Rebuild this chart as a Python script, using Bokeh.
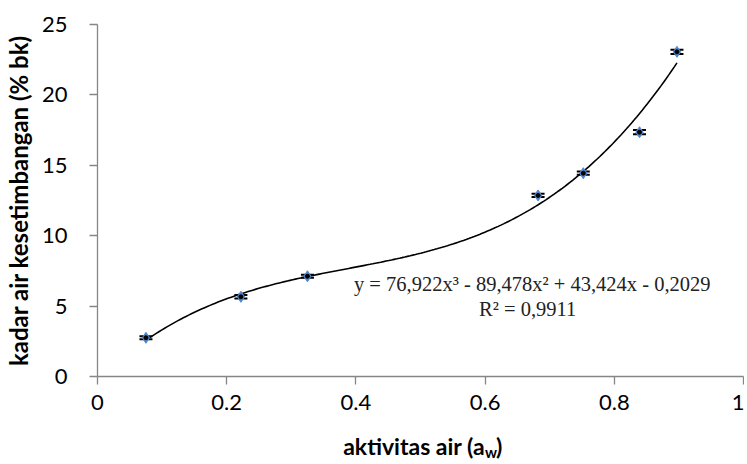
import numpy as np
from bokeh.plotting import figure
from bokeh.layouts import column
from bokeh.models import (Label, Range1d, Whisker, ColumnDataSource, FixedTicker,
                          TeeHead, NumeralTickFormatter)
from bokeh.core.properties import value
from bokeh.embed import file_html
from bokeh.resources import INLINE

# data
aw = [0.075, 0.222, 0.325, 0.682, 0.752, 0.839, 0.897]
kadar_air = [2.75, 5.66, 7.12, 12.86, 14.44, 17.35, 23.06]
galat = [0.1, 0.12, 0.1, 0.12, 0.12, 0.15, 0.15]
poly_coef = [76.922, -89.478, 43.424, -0.2029]
x_ticks = [0, 0.2, 0.4, 0.6, 0.8, 1]
y_ticks = [0, 5, 10, 15, 20, 25]
eq_line1 = "y = 76,922x³ - 89,478x² + 43,424x - 0,2029"
eq_line2 = "R² = 0,9911"
x_label_main = "aktivitas air (a"
x_label_sub = "w"
x_label_end = ")"
y_label = "kadar air kesetimbangan (% bk)"

TICK_FONT = "Lato"
LBL_FONT = "Lato"
AXIS_COLOR = "#868686"
LEFT = 94
FRAME_W = 646

p = figure(frame_width=FRAME_W, frame_height=352,
           min_border_left=LEFT, min_border_right=1, min_border_top=24, min_border_bottom=40,
           x_range=Range1d(0, 1), y_range=Range1d(0, 25),
           output_backend="svg", toolbar_location=None)
p.outline_line_color = None
p.xgrid.visible = False
p.ygrid.visible = False

for ax in (p.xaxis[0], p.yaxis[0]):
    ax.axis_line_color = AXIS_COLOR
    ax.axis_line_width = 1.3
    ax.major_tick_line_color = AXIS_COLOR
    ax.major_tick_line_width = 1.3
    ax.major_tick_in = 0
    ax.major_tick_out = 8
    ax.minor_tick_line_color = None
    ax.major_label_text_font = TICK_FONT
    ax.major_label_text_font_size = "22px"
    ax.major_label_text_color = "black"

p.xaxis[0].ticker = FixedTicker(ticks=x_ticks)
p.yaxis[0].ticker = FixedTicker(ticks=y_ticks)
p.xaxis[0].formatter = NumeralTickFormatter(format="0.[0]")
p.xaxis[0].major_label_standoff = 10
p.yaxis[0].major_label_standoff = 22

p.yaxis[0].axis_label = y_label
p.yaxis[0].axis_label_text_font = LBL_FONT
p.yaxis[0].axis_label_text_font_style = "bold"
p.yaxis[0].axis_label_text_font_size = "24px"
p.yaxis[0].axis_label_text_color = "black"
p.yaxis[0].axis_label_standoff = 6

# trendline (polynomial order 3)
xs = np.linspace(min(aw), max(aw), 200)
ys = np.polyval(poly_coef, xs)
p.line(xs, ys, line_color="black", line_width=1.6)

src = ColumnDataSource(dict(
    x=aw, y=kadar_air,
    upper=[v + e for v, e in zip(kadar_air, galat)],
    lower=[v - e for v, e in zip(kadar_air, galat)],
))
wh = Whisker(base="x", upper="upper", lower="lower", source=src, dimension="height",
             line_color="black", line_width=1.2,
             upper_head=TeeHead(size=13, line_color="black", line_width=2),
             lower_head=TeeHead(size=13, line_color="black", line_width=2))
p.add_layout(wh)
p.scatter("x", "y", source=src, marker="diamond", size=11,
          fill_color="#4F86D0", line_color="#4F86D0")
p.scatter("x", "y", source=src, marker="circle", size=4,
          fill_color="black", line_color="black")

# equation labels
p.add_layout(Label(x=0.673, y=6.55, text=eq_line1, text_align="center", text_baseline="middle",
                   text_font="Liberation Serif", text_font_size="20.5px", text_color="#222222"))
p.add_layout(Label(x=0.666, y=4.78, text=eq_line2, text_align="center", text_baseline="middle",
                   text_font="Liberation Serif", text_font_size="20.5px", text_color="#222222"))

# x axis label (with subscript) in a thin strip below the chart
q = figure(frame_width=FRAME_W, frame_height=44,
           min_border_left=LEFT, min_border_right=1, min_border_top=0, min_border_bottom=0,
           x_range=p.x_range, y_range=Range1d(0, 44),
           x_axis_location=None, y_axis_location=None,
           output_backend="svg", toolbar_location=None)
q.outline_line_color = None
q.xgrid.visible = False
q.ygrid.visible = False

q.text(x=[0.600], y=[15], text=[x_label_main], text_align="right", text_baseline="middle",
       text_font=value(LBL_FONT), text_font_style="bold", text_font_size="23px",
       text_color="black")
q.text(x=[0.600], y=[9], text=[x_label_sub], text_align="left", text_baseline="middle",
       text_font=value(LBL_FONT), text_font_style="bold", text_font_size="15px",
       text_color="black")
q.text(x=[0.617], y=[15], text=[x_label_end], text_align="left", text_baseline="middle",
       text_font=value(LBL_FONT), text_font_style="bold", text_font_size="23px",
       text_color="black")

layout = column(p, q, spacing=0)
open("out.html", "w").write(file_html(layout, INLINE))
